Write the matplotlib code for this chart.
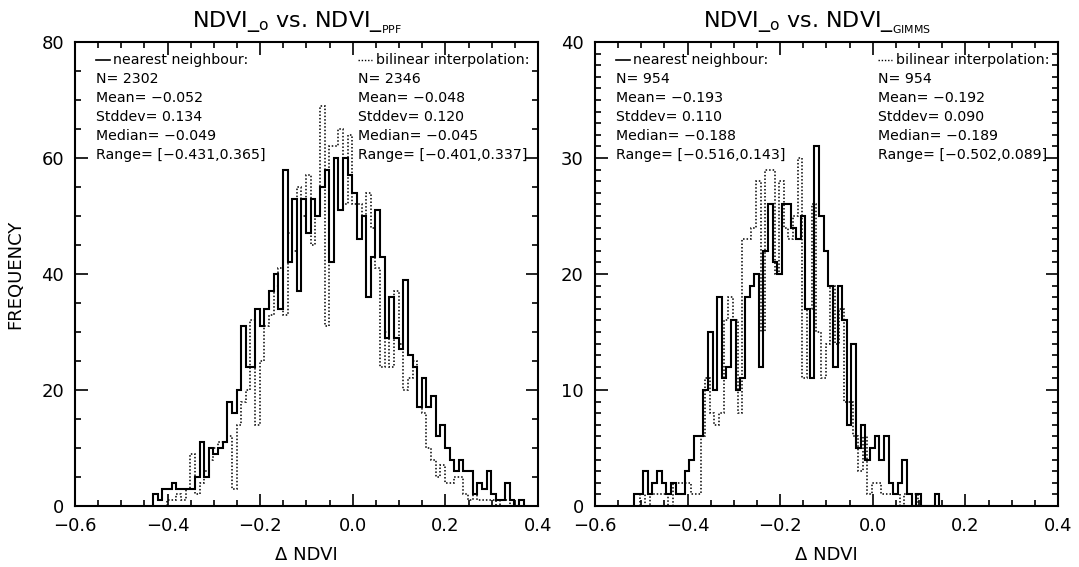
import numpy as np
import matplotlib.pyplot as plt
from matplotlib.ticker import MultipleLocator

BIN = 0.01

# left panel: NDVI_o vs NDVI_PPF
PPF_NN_START = -0.431
PPF_NN = [2, 1, 3, 3, 4, 3, 3, 3, 3, 5,
          11, 5, 10, 9, 10, 11, 18, 16, 20, 31,
          24, 24, 34, 31, 34, 37, 40, 34, 58, 42,
          53, 37, 53, 47, 53, 50, 55, 58, 42, 60,
          51, 60, 57, 54, 46, 50, 36, 43, 51, 43,
          29, 36, 29, 27, 39, 26, 24, 17, 22, 17,
          19, 12, 14, 10, 8, 6, 8, 6, 6, 2,
          4, 3, 6, 2, 1, 1, 4, 1, 0, 1]
PPF_BI_START = -0.401
PPF_BI = [1, 1, 2, 1, 3, 9, 2, 4, 6, 8,
          10, 11, 11, 12, 3, 14, 18, 20, 32, 14,
          25, 31, 33, 38, 41, 33, 47, 44, 55, 50,
          57, 45, 50, 69, 31, 62, 62, 65, 52, 64,
          52, 52, 50, 54, 48, 41, 24, 30, 24, 37,
          28, 20, 22, 25, 17, 16, 10, 8, 5, 7,
          4, 4, 5, 5, 2, 1, 2, 1, 1, 1,
          1, 0, 1, 1]

# right panel: NDVI_o vs NDVI_GIMMS
GIMMS_NN_START = -0.516
GIMMS_NN = [1, 1, 3, 1, 2, 3, 2, 1, 2, 1,
            1, 3, 4, 6, 6, 10, 15, 10, 18, 11,
            12, 16, 10, 11, 18, 19, 20, 12, 22, 26,
            21, 20, 26, 26, 24, 23, 25, 17, 11, 31,
            25, 22, 19, 12, 19, 16, 7, 14, 5, 7,
            4, 5, 6, 4, 6, 2, 1, 2, 4, 1,
            0, 1, 0, 0, 0, 1]
GIMMS_BI_START = -0.502
GIMMS_BI = [1, 0, 1, 1, 1, 1, 0, 2, 2, 2,
            2, 1, 1, 6, 11, 8, 7, 8, 16, 18,
            16, 8, 23, 23, 24, 28, 15, 29, 29, 20,
            28, 24, 23, 25, 30, 11, 17, 26, 15, 11,
            14, 19, 14, 17, 9, 9, 6, 3, 6, 1,
            2, 2, 1, 1, 1, 1, 0, 1, 1, 1]

PPF_STATS_NN = ["N= 2302", "Mean= \u22120.052", "Stddev= 0.134",
                "Median= \u22120.049", "Range= [\u22120.431,0.365]"]
PPF_STATS_BI = ["N= 2346", "Mean= \u22120.048", "Stddev= 0.120",
                "Median= \u22120.045", "Range= [\u22120.401,0.337]"]
GIMMS_STATS_NN = ["N= 954", "Mean= \u22120.193", "Stddev= 0.110",
                  "Median= \u22120.188", "Range= [\u22120.516,0.143]"]
GIMMS_STATS_BI = ["N= 954", "Mean= \u22120.192", "Stddev= 0.090",
                  "Median= \u22120.189", "Range= [\u22120.502,0.089]"]

TITLES = [r"NDVI_$_{\rm o}$ vs. NDVI_$_{_{\rm PPF}}$",
          r"NDVI_$_{\rm o}$ vs. NDVI_$_{_{\rm GIMMS}}$"]

plt.rcParams.update({
    "font.family": ["DejaVu Sans"],
    "mathtext.fontset": "dejavusans",
    "axes.linewidth": 1.5,
})

fig = plt.figure(figsize=(10.79, 5.67), dpi=100)
ax1 = fig.add_axes([0.0695, 0.1076, 0.4291, 0.8183])
ax2 = fig.add_axes([0.5514, 0.1076, 0.4291, 0.8183])

TXT = 10.2


def edges(start, counts):
    return start + BIN * np.arange(len(counts) + 1)


def draw_panel(ax, nn_start, nn, bi_start, bi, ymax, ymajor, yminor,
               stats_nn, stats_bi, title):
    ax.stairs(nn, edges(nn_start, nn), color="black", lw=1.5)
    ax.stairs(bi, edges(bi_start, bi), color="black", lw=1.1,
              linestyle=(0, (1, 1.3)))
    ax.set_xlim(-0.6, 0.4)
    ax.set_ylim(0, ymax)
    ax.xaxis.set_major_locator(MultipleLocator(0.2))
    ax.xaxis.set_minor_locator(MultipleLocator(0.05))
    ax.yaxis.set_major_locator(MultipleLocator(ymajor))
    ax.yaxis.set_minor_locator(MultipleLocator(yminor))
    ax.tick_params(which="both", direction="in", top=True, right=True,
                   labelsize=13, width=1.2)
    ax.tick_params(which="major", length=9, pad=8)
    ax.tick_params(which="minor", length=4.5)
    ax.xaxis.set_major_formatter(lambda v, p: f"{v:.1f}".replace("-", "\u2212"))
    ax.set_xlabel("\u0394 NDVI", fontsize=13, labelpad=8)
    ax.set_title(title, fontsize=16, pad=10, x=0.48)

    xl, xr = 0.045, 0.612
    ys = [0.961, 0.920, 0.879, 0.838, 0.797, 0.756]
    ax.plot([xl, xl + 0.03], [ys[0], ys[0]], transform=ax.transAxes,
            color="black", lw=1.2)
    ax.text(xl + 0.038, ys[0], "nearest neighbour:", transform=ax.transAxes,
            fontsize=TXT, va="center", ha="left")
    ax.plot([xr, xr + 0.03], [ys[0], ys[0]], transform=ax.transAxes,
            color="black", lw=1.0, linestyle=(0, (1, 1.3)))
    ax.text(xr + 0.038, ys[0], "bilinear interpolation:", transform=ax.transAxes,
            fontsize=TXT, va="center", ha="left")
    for y, s1, s2 in zip(ys[1:], stats_nn, stats_bi):
        ax.text(xl, y, s1, transform=ax.transAxes, fontsize=TXT,
                va="center", ha="left")
        ax.text(xr, y, s2, transform=ax.transAxes, fontsize=TXT,
                va="center", ha="left")


draw_panel(ax1, PPF_NN_START, PPF_NN, PPF_BI_START, PPF_BI, 80, 20, 5,
           PPF_STATS_NN, PPF_STATS_BI, TITLES[0])
draw_panel(ax2, GIMMS_NN_START, GIMMS_NN, GIMMS_BI_START, GIMMS_BI, 40, 10, 1,
           GIMMS_STATS_NN, GIMMS_STATS_BI, TITLES[1])
ax1.set_ylabel("FREQUENCY", fontsize=13, labelpad=12)

fig.savefig("out.png", dpi=100)
